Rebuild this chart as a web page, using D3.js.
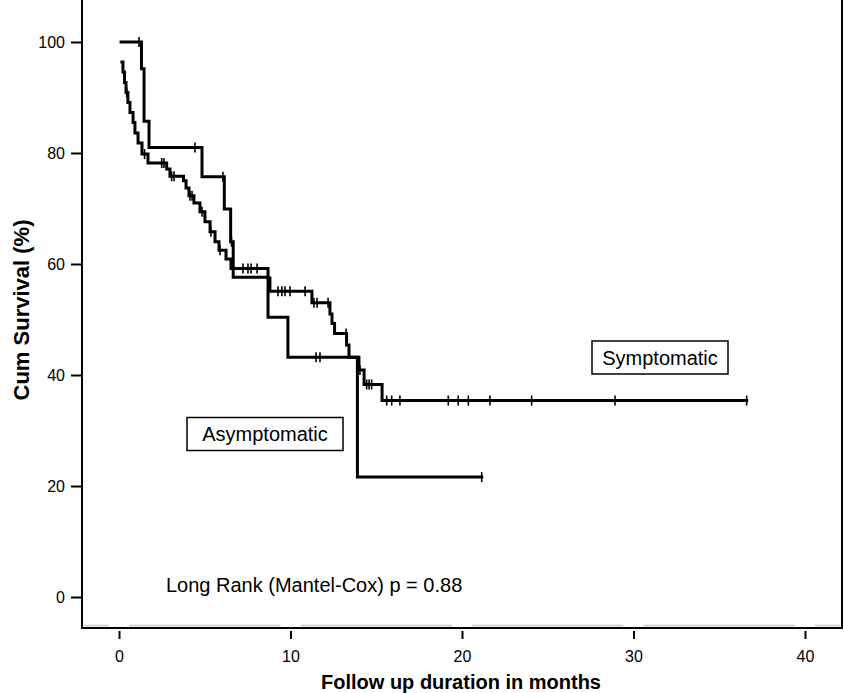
<!DOCTYPE html>
<html>
<head>
<meta charset="utf-8">
<script src="https://cdn.jsdelivr.net/npm/d3@7"></script>
<style>
  html, body { margin: 0; padding: 0; background: #fff; }
  svg { display: block; }
  text { font-family: "Liberation Sans", Arial, sans-serif; fill: #000; }
</style>
</head>
<body>
<script>
// ---------- data ----------
const xTicks = [0, 10, 20, 30, 40];
const yTicks = [0, 20, 40, 60, 80, 100];

// Symptomatic group: event times (months) and survival (%) after each step
const symTimes = [0.17,0.23,0.32,0.41,0.52,0.64,0.82,0.93,1.11,1.34,1.69,2.78,2.97,3.76,3.91,4.08,4.37,4.72,5.01,5.31,5.60,5.83,6.24,6.53,8.69,8.80,11.25,12.30,12.42,12.57,13.27,13.41,13.99,14.29,15.34];
const symSurv  = [96.4,94.6,92.7,90.9,89.1,87.3,85.5,83.6,81.8,79.8,78.2,77.1,75.8,75.0,73.7,72.3,71.0,69.4,67.6,65.8,64.0,62.5,60.9,59.2,57.5,55.1,53.0,51.0,49.3,47.5,45.4,43.2,40.9,38.3,35.4];
const symCensor = [0.45,1.49,2.49,2.62,3.07,3.21,4.14,4.26,4.84,5.36,5.89,7.23,7.52,7.70,8.05,9.27,9.50,9.68,9.97,10.85,11.37,11.55,12.19,13.24,14.05,14.44,14.58,14.73,15.61,15.90,16.38,19.2,19.78,20.37,21.63,24.06,28.92,36.6];
const symEnd = 36.6;

// Asymptomatic group
const asymTimes = [0.12,1.31,1.46,1.75,4.84,6.14,6.51,6.66,8.69,9.85,13.9];
const asymSurv  = [100,95.2,85.7,81.0,75.7,69.9,64.0,57.6,50.4,43.2,21.6];
const asymCensor = [1.17,4.43,6.06,6.56,11.49,11.72,21.15];
const asymEnd = 21.15;

const groupLabels = ["Symptomatic", "Asymptomatic"];
const statText = "Long Rank (Mantel-Cox) p = 0.88";
const xTitle = "Follow up duration in months";
const yTitle = "Cum Survival (%)";

// ---------- layout ----------
const W = 844, H = 693;
const svg = d3.select("body").append("svg").attr("width", W).attr("height", H);

const x = d3.scaleLinear().domain([0, 40]).range([119, 805]);
const y = d3.scaleLinear().domain([0, 100]).range([597, 42]);

const frameL = 82, frameR = 842, frameB = 628;

// light gray baseline inside the frame
const gapPts = xTicks.map(d => x(d));
const segs = [];
let start = frameL + 2;
gapPts.forEach(g => { segs.push([start, g - 10]); start = g + 10; });
segs.push([start, frameR - 2]);
svg.selectAll("line.gray").data(segs).enter().append("line")
  .attr("x1", d => d[0]).attr("x2", d => d[1])
  .attr("y1", frameB - 2.5).attr("y2", frameB - 2.5)
  .attr("stroke", "#c8c8c8").attr("stroke-width", 1.5);

// frame
svg.append("path")
  .attr("d", `M${frameL},0 L${frameL},${frameB} L${frameR},${frameB} L${frameR},0`)
  .attr("fill", "none").attr("stroke", "#000").attr("stroke-width", 2);

// y axis ticks & labels
const yAxis = d3.axisLeft(y).tickValues(yTicks).tickSize(10).tickPadding(6);
const gy = svg.append("g").attr("transform", `translate(${frameL - 1},0)`).call(yAxis);
gy.select(".domain").remove();
gy.selectAll(".tick line").attr("stroke", "#000").attr("stroke-width", 2);
gy.selectAll(".tick text").style("font-size", "16px").style("font-family", '"Liberation Sans", Arial, sans-serif').attr("fill", "#000");

// x axis ticks & labels
const xAxis = d3.axisBottom(x).tickValues(xTicks).tickSize(8).tickPadding(12);
const gx = svg.append("g").attr("transform", `translate(0,${frameB + 3})`).call(xAxis);
gx.select(".domain").remove();
gx.selectAll(".tick line").attr("stroke", "#000").attr("stroke-width", 2);
gx.selectAll(".tick text").style("font-size", "16px").style("font-family", '"Liberation Sans", Arial, sans-serif').attr("fill", "#000");

// axis titles
svg.append("text").attr("x", 461).attr("y", 689)
  .attr("text-anchor", "middle").style("font-size", "20px").style("font-weight", "bold")
  .text(xTitle);
svg.append("text").attr("transform", "translate(29,310) rotate(-90)")
  .attr("text-anchor", "middle").style("font-size", "22px").style("font-weight", "bold")
  .text(yTitle);

// ---------- curves ----------
function stepPoints(times, surv, end) {
  const pts = times.map((t, i) => [t, surv[i]]);
  pts.push([end, surv[surv.length - 1]]);
  return pts;
}
function survAt(times, surv, t) {
  let v = surv[0];
  for (let i = 0; i < times.length; i++) { if (times[i] <= t) v = surv[i]; }
  return v;
}
const line = d3.line().x(d => x(d[0])).y(d => y(d[1])).curve(d3.curveStepAfter);

const groups = [
  { times: symTimes, surv: symSurv, censor: symCensor, end: symEnd },
  { times: asymTimes, surv: asymSurv, censor: asymCensor, end: asymEnd }
];

groups.forEach(g => {
  svg.append("path").datum(stepPoints(g.times, g.surv, g.end))
    .attr("d", line).attr("fill", "none").attr("stroke", "#000")
    .attr("stroke-width", 3).attr("stroke-linejoin", "miter").attr("stroke-linecap", "square");
  svg.selectAll(null).data(g.censor).enter().append("line")
    .attr("x1", d => x(d)).attr("x2", d => x(d))
    .attr("y1", d => y(survAt(g.times, g.surv, d)) - 5)
    .attr("y2", d => y(survAt(g.times, g.surv, d)) + 5)
    .attr("stroke", "#000").attr("stroke-width", 1.6);
});

// ---------- labels ----------
function labelBox(cx, cy, w, h, txt) {
  svg.append("rect").attr("x", cx - w / 2).attr("y", cy - h / 2).attr("width", w).attr("height", h)
    .attr("fill", "#fff").attr("stroke", "#000").attr("stroke-width", 1.5);
  svg.append("text").attr("x", cx).attr("y", cy + 7).attr("text-anchor", "middle")
    .style("font-size", "20px").text(txt);
}
labelBox(660, 357.5, 136, 33, groupLabels[0]);
labelBox(265, 434, 156, 33, groupLabels[1]);

svg.append("text").attr("x", 166).attr("y", 592).style("font-size", "20px").text(statText);
</script>
</body>
</html>
